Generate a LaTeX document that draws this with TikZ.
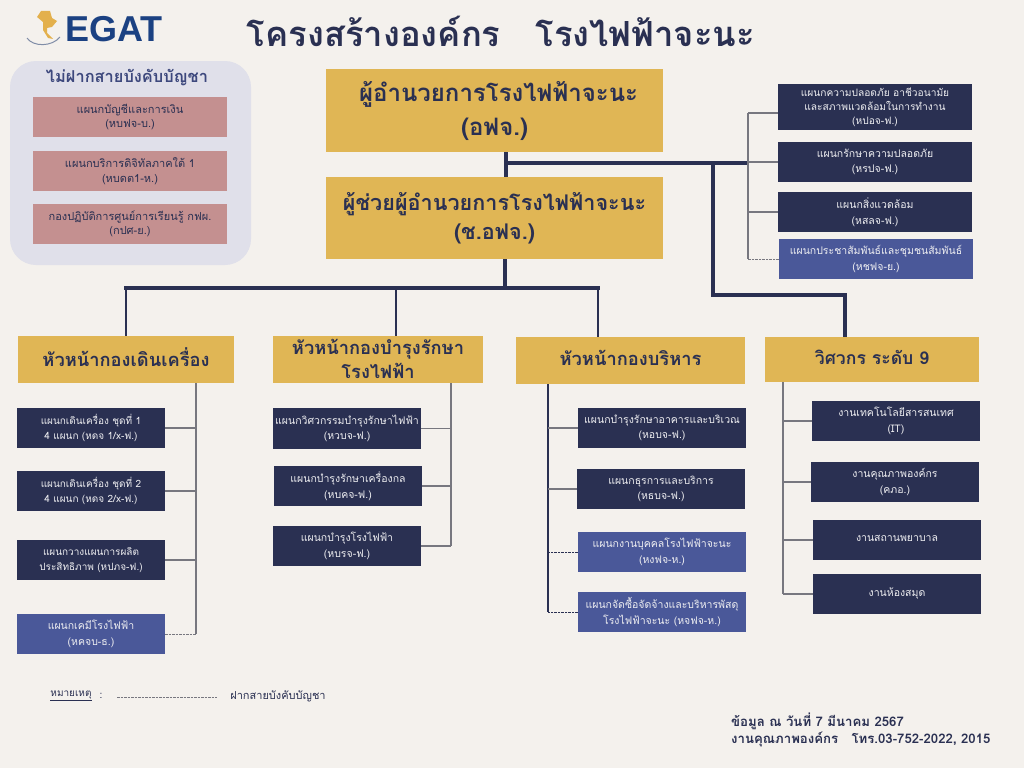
\documentclass[tikz,border=0pt]{standalone}
\usepackage{fontspec}
\setmainfont[Script=Thai]{Loma}
\newfontfamily\logofont{Liberation Sans}
\definecolor{pagebg}{HTML}{F4F1ED}
\definecolor{navy}{HTML}{2A3052}
\definecolor{royal}{HTML}{4A5899}
\definecolor{gold}{HTML}{E0B655}
\definecolor{rose}{HTML}{C49090}
\definecolor{panel}{HTML}{E0E0EA}
\definecolor{egatblue}{HTML}{1B4182}
\definecolor{stubgray}{HTML}{77777F}
\newcommand{\fs}[2]{\fontsize{#1}{#2}\selectfont}
\newcommand{\shifttext}[2]{\raisebox{#1}{#2}}
\tikzset{
  unitbox/.style={inner sep=0pt,align=center,minimum height=40pt,minimum width=148pt,text=white!92!navy,font=\fs{10.5}{15.5}},
  darkbox/.style={unitbox,fill=navy},
  bluebox/.style={unitbox,fill=royal},
  rosebox/.style={unitbox,fill=rose,text=navy,minimum width=194pt,font=\fs{11}{14.5}},
  goldbox/.style={inner sep=0pt,align=center,fill=gold,text=navy,font=\fs{24}{34}\bfseries,minimum width=337pt,minimum height=83pt},
  headbox/.style={inner sep=0pt,align=center,fill=gold,text=navy,font=\fs{18.3}{24}\bfseries,minimum height=47pt},
  bigline/.style={navy,line width=3.2pt},
  midline/.style={navy,line width=2.6pt},
  stubline/.style={stubgray,line width=1.2pt},
  dashline/.style={stubgray,line width=1pt,dash pattern=on 2.5pt off 1pt},
  plaintext/.style={inner sep=0pt,text=navy}
}
\begin{document}
\begin{tikzpicture}[x=1pt,y=-1pt]
\useasboundingbox[fill=pagebg] (0,0) rectangle (1024,768);
% logo
\fill[gold!90!orange] (41,11) -- (50,11) -- (52,18) -- (57,21) -- (52,27) -- (47,28) -- (47,33) -- (53,39) -- (48,38) -- (43,30) -- (43,22) -- (37,17) -- cycle;
\draw[stubgray!50!egatblue!70,line width=1pt] (27,38) .. controls (33,47) and (52,47) .. (60,37);
\node[plaintext,text=egatblue,font=\fs{36}{36}\logofont\bfseries] (logo) at (114,29) {EGAT};
\node[plaintext,font=\fs{34.6}{36}\bfseries] (title) at (501,31) {โครงสร้างองค์กร \ \ โรงไฟฟ้าจะนะ};
% panel on the left
\node[fill=panel,rounded corners=26pt,minimum width=241pt,minimum height=204pt,inner sep=0pt] (freepanel) at (130.5,163) {};
\node[plaintext,text=royal!60!navy,font=\fs{16.4}{18}\bfseries] (freetitle) at (127,78) {ไม่ฝากสายบังคับบัญชา};
\node[rosebox] (accnt) at (130,117) {แผนกบัญชีและการเงิน\\(หบฟจ-บ.)};
\node[rosebox] (digit) at (130,171) {แผนกบริการดิจิทัลภาคใต้ 1\\(หบดต1-ห.)};
\node[rosebox] (learn) at (130,224) {กองปฏิบัติการศูนย์การเรียนรู้ กฟผ.\\(กปศ-ย.)};
% top of the chart
\node[goldbox] (chief) at (494.5,110.5) {\shifttext{-3pt}{\ ผู้อำนวยการโรงไฟฟ้าจะนะ}\\\shifttext{-3pt}{(อฟจ.)}};
\node[goldbox,minimum height=82pt,font=\fs{21.6}{29}\bfseries] (deputy) at (494.5,218) {ผู้ช่วยผู้อำนวยการโรงไฟฟ้าจะนะ\\(ช.อฟจ.)};
% staff units
\node[darkbox,minimum width=194pt,minimum height=46pt,font=\fs{10.2}{14}] (safety) at (875,107) {แผนกความปลอดภัย อาชีวอนามัย\\และสภาพแวดล้อมในการทำงาน\\(หปอจ-ฟ.)};
\node[darkbox,minimum width=194pt] (guard) at (875,162) {แผนกรักษาความปลอดภัย\\(หรปจ-ฟ.)};
\node[darkbox,minimum width=194pt] (envir) at (875,212) {แผนกสิ่งแวดล้อม\\(หสลจ-ฟ.)};
\node[bluebox,minimum width=194pt] (pubrel) at (876,259) {แผนกประชาสัมพันธ์และชุมชนสัมพันธ์\\(หชฟจ-ย.)};
% heads
\node[headbox,minimum width=216pt] (headop) at (126,359.5) {\shifttext{4pt}{หัวหน้ากองเดินเครื่อง}};
\node[headbox,minimum width=210pt] (headmt) at (378,359.5) {\shifttext{2pt}{หัวหน้ากองบำรุงรักษา}\\\shifttext{2pt}{โรงไฟฟ้า}};
\node[headbox,minimum width=229pt] (headad) at (630.5,360.5) {\shifttext{5pt}{หัวหน้ากองบริหาร}};
\node[headbox,minimum width=214pt,minimum height=45pt,font=\fs{17.6}{24}\bfseries] (headen) at (872,359.5) {\shifttext{5pt}{วิศวกร ระดับ 9}};
% first column
\node[darkbox,font=\fs{10}{15.5}] (opa) at (91,428) {แผนกเดินเครื่อง ชุดที่ 1\\4 แผนก  (หดจ 1/x-ฟ.)};
\node[darkbox,font=\fs{10}{15.5}] (opb) at (91,491) {แผนกเดินเครื่อง ชุดที่ 2\\4 แผนก  (หดจ 2/x-ฟ.)};
\node[darkbox,font=\fs{10}{15.5}] (opc) at (91,560) {แผนกวางแผนการผลิต\\ประสิทธิภาพ (หปภจ-ฟ.)};
\node[bluebox] (opd) at (91,634) {แผนกเคมีโรงไฟฟ้า\\(หคจบ-ธ.)};
% second column
\node[darkbox,minimum height=41pt] (mta) at (347,428.5) {แผนกวิศวกรรมบำรุงรักษาไฟฟ้า\\(หวบจ-ฟ.)};
\node[darkbox] (mtb) at (348,486) {แผนกบำรุงรักษาเครื่องกล\\(หบคจ-ฟ.)};
\node[darkbox] (mtc) at (347,546) {แผนกบำรุงโรงไฟฟ้า\\(หบรจ-ฟ.)};
% third column
\node[darkbox,minimum width=168pt] (ada) at (662,428) {แผนกบำรุงรักษาอาคารและบริเวณ\\(หอบจ-ฟ.)};
\node[darkbox,minimum width=168pt] (adb) at (661,489) {แผนกธุรการและบริการ\\(หธบจ-ฟ.)};
\node[bluebox,minimum width=168pt] (adc) at (662,552) {แผนกงานบุคคลโรงไฟฟ้าจะนะ\\(หงฟจ-ห.)};
\node[bluebox,minimum width=168pt] (add) at (662,612) {แผนกจัดซื้อจัดจ้างและบริหารพัสดุ\\โรงไฟฟ้าจะนะ (หจฟจ-ห.)};
% fourth column
\node[darkbox,minimum width=168pt] (ena) at (896,421) {งานเทคโนโลยีสารสนเทศ\\(IT)};
\node[darkbox,minimum width=168pt] (enb) at (895,482) {งานคุณภาพองค์กร\\(คภอ.)};
\node[darkbox,minimum width=168pt] (enc) at (897,540) {\shifttext{4pt}{งานสถานพยาบาล}};
\node[darkbox,minimum width=168pt] (end) at (897,594) {\shifttext{4pt}{งานห้องสมุด}};
% free ends of the buses
\coordinate (jointop) at (506,163);
\coordinate (staffbus) at (748,163);
\coordinate (stafftop) at (748,113);
\coordinate (engdrop) at (713,163);
\coordinate (engrun) at (713,295);
\coordinate (engfoot) at (845,295);
\coordinate (headrun) at (505,288);
\coordinate (dropop) at (126,288);
\coordinate (dropmt) at (396,288);
\coordinate (dropad) at (598,288);
\coordinate (busop) at (196,383);
\coordinate (busmt) at (451,383);
\coordinate (busad) at (548,384);
\coordinate (busen) at (783,382);
% main lines
\draw[bigline] (chief.south -| jointop) -- (deputy.north -| jointop);
\draw[bigline] (jointop) -- (staffbus);
\draw[bigline] (engdrop) -- (engrun) -- (engfoot) -- (engfoot |- headen.north);
\draw[bigline] (deputy.south -| headrun) -- (headrun);
\draw[bigline,line cap=rect] (dropop) -- (dropad);
\draw[midline] (dropop) -- (dropop |- headop.north);
\draw[midline] (dropmt) -- (dropmt |- headmt.north);
\draw[midline] (dropad) -- (dropad |- headad.north);
% staff branch
\draw[stubline] (stafftop) -- (pubrel.west -| staffbus);
\draw[stubline] (stafftop -| safety.west) -- (stafftop);
\draw[stubline] (guard.west) -- (guard.west -| staffbus);
\draw[stubline] (envir.west) -- (envir.west -| staffbus);
\draw[dashline] (pubrel.west) -- (pubrel.west -| staffbus);
% branches below the heads
\draw[stubline] (busop) -- (opd.east -| busop);
\draw[stubline] (busmt) -- (mtc.east -| busmt);
\draw[stubline,navy] (busad) -- (add.west -| busad);
\draw[stubline] (busen) -- (end.west -| busen);
\foreach \unit in {opa,opb,opc} \draw[stubline] (\unit.east) -- (\unit.east -| busop);
\draw[dashline] (opd.east) -- (opd.east -| busop);
\foreach \unit in {mta,mtb,mtc} \draw[stubline] (\unit.east) -- (\unit.east -| busmt);
\foreach \unit in {ada,adb} \draw[stubline] (\unit.west) -- (\unit.west -| busad);
\foreach \unit in {adc,add} \draw[dashline,navy] (\unit.west) -- (\unit.west -| busad);
\foreach \unit in {ena,enb,enc,end} \draw[stubline] (\unit.west) -- (\unit.west -| busen);
% legend and footer
\node[plaintext,font=\fs{10}{12}] (notelabel) at (71,696) {\underline{หมายเหตุ}};
\node[plaintext,font=\fs{10}{12}] (notecolon) at (101,696) {:};
\coordinate (dashfrom) at (117,697);
\coordinate (dashto) at (217,697);
\draw[dashline] (dashfrom) -- (dashto);
\node[plaintext,font=\fs{11}{12}] (notetext) at (278,696) {ฝากสายบังคับบัญชา};
\node[plaintext,anchor=west,font=\fs{13.2}{17}\bfseries,align=left] (footer) at (731,730) {ข้อมูล ณ วันที่  7  มีนาคม 2567\\งานคุณภาพองค์กร \ \ โทร.03-752-2022, 2015};
\end{tikzpicture}
\end{document}
